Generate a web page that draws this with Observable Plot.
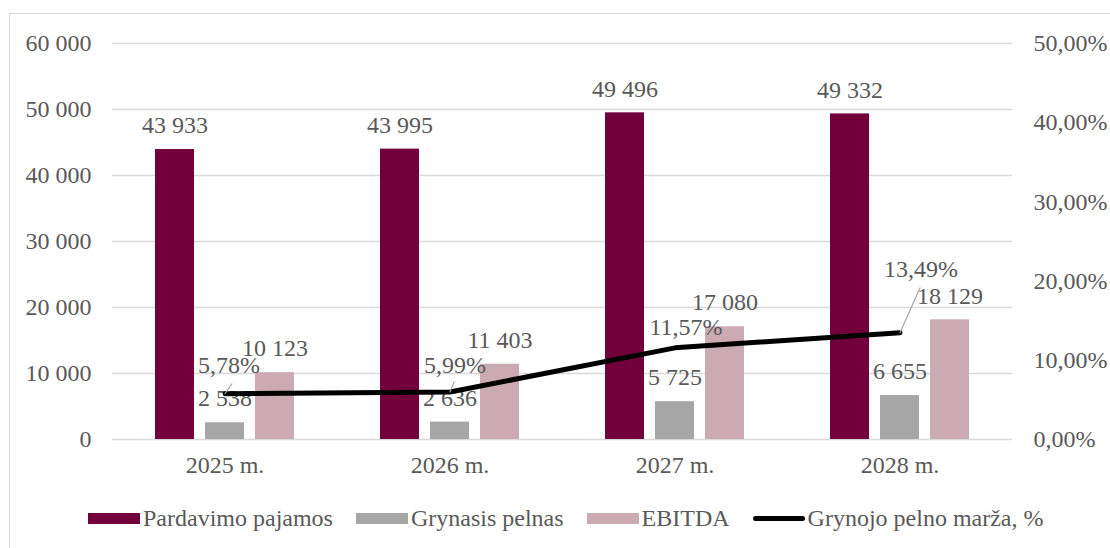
<!DOCTYPE html>
<html>
<head>
<meta charset="utf-8">
<script src="https://cdn.jsdelivr.net/npm/d3@7"></script>
<script src="https://cdn.jsdelivr.net/npm/@observablehq/plot@0.6"></script>
<style>
  html, body { margin: 0; padding: 0; background: #fff; }
  body { width: 1110px; height: 548px; position: relative; overflow: hidden; font-family: "Liberation Serif", "Times New Roman", serif; }
  #frame { position: absolute; left: 9px; top: 13px; width: 1200px; height: 600px; border: 1.5px solid #d9d9d9; box-sizing: border-box; }
  #chart { position: absolute; left: 0; top: 0; }
  #legend { position: absolute; left: 88px; top: 505px; display: flex; align-items: center; font-size: 24px; color: #595959; white-space: nowrap; }
  .item { display: flex; align-items: center; margin-right: 23px; }
  .sw { width: 52px; height: 11px; margin-right: 3px; }
  .ln { width: 52px; height: 5px; border-radius: 3px; background: #000; margin-right: 3px; }
</style>
</head>
<body>
<div id="frame"></div>
<div id="chart"></div>
<div id="legend"></div>
<script>
const years = ["2025 m.", "2026 m.", "2027 m.", "2028 m."];
const pardavimo = [43933, 43995, 49496, 49332];
const grynasis = [2538, 2636, 5725, 6655];
const ebitda = [10123, 11403, 17080, 18129];
const marza = [5.78, 5.99, 11.57, 13.49];
const leftTicks = [0, 10000, 20000, 30000, 40000, 50000, 60000];
const rightTicks = [0, 10, 20, 30, 40, 50];
const seriesNames = ["Pardavimo pajamos", "Grynasis pelnas", "EBITDA", "Grynojo pelno marža, %"];
const colors = ["#72003a", "#a6a6a6", "#ccaab3", "#000000"];

// style config for label placement (pixels)
const barDx = [-50, 0, 50];
const pctLabelOffsets = [[4, -28], [5, -27], [11, -21], [21, -63]];
const leaders = [[0, 12, 35], [1, 11, 22], [3, 49, 24]]; // [index, length, angle]

const LEFTMAX = 60000, RIGHTMAX = 50;
const toLeft = p => p * LEFTMAX / RIGHTMAX;
const fmtNum = d => d3.format(",")(d).replace(/,/g, " ");
const fmtPct = d => d.toFixed(2).replace(".", ",") + "%";

const rows = years.map((y, i) => ({year: y, i, p: pardavimo[i], g: grynasis[i], e: ebitda[i], m: marza[i]}));
const keys = ["p", "g", "e"];
const txt = "#595959";

const marks = [
  Plot.gridY(leftTicks, {stroke: "#d9d9d9", strokeOpacity: 1, strokeWidth: 1.5}),
  Plot.axisY(leftTicks, {anchor: "left", tickSize: 0, tickPadding: 21, tickFormat: fmtNum, fill: txt}),
  Plot.axisY(rightTicks.map(toLeft), {anchor: "right", tickSize: 0, tickPadding: 21, tickFormat: d => fmtPct(d * RIGHTMAX / LEFTMAX), fill: txt}),
  Plot.axisX({tickSize: 0, tickPadding: 16, fill: txt, label: null})
];
keys.forEach((k, s) => {
  marks.push(Plot.barY(rows, {x: "year", y: k, fill: colors[s], insetLeft: 93, insetRight: 93, dx: barDx[s]}));
});
keys.forEach((k, s) => {
  marks.push(Plot.text(rows, {x: "year", y: k, text: d => fmtNum(d[k]), dx: barDx[s], dy: -24, fill: txt}));
});
marks.push(Plot.line(rows, {x: "year", y: d => toLeft(d.m), stroke: colors[3], strokeWidth: 5, strokeLinecap: "round"}));
leaders.forEach(([i, len, ang]) => {
  marks.push(Plot.vector([rows[i]], {
    x: "year", y: d => toLeft(d.m), length: len, rotate: ang, anchor: "start",
    shape: {draw(ctx, l) { ctx.moveTo(0, 0); ctx.lineTo(0, -l); }},
    stroke: "#a6a6a6", strokeWidth: 1.2
  }));
});
rows.forEach((r, i) => {
  marks.push(Plot.text([r], {x: "year", y: d => toLeft(d.m), text: d => fmtPct(d.m), dx: pctLabelOffsets[i][0], dy: pctLabelOffsets[i][1], fill: txt}));
});

const chart = Plot.plot({
  width: 1110, height: 490,
  marginLeft: 112, marginRight: 98, marginTop: 43, marginBottom: 51,
  x: {type: "band", domain: years, padding: 0, label: null},
  y: {domain: [0, LEFTMAX], label: null},
  style: {fontFamily: "'Liberation Serif', 'Times New Roman', serif", fontSize: "24px", color: txt, background: "transparent", overflow: "visible"},
  marks
});
document.getElementById("chart").appendChild(chart);

const legend = document.getElementById("legend");
seriesNames.forEach((name, s) => {
  const it = document.createElement("div");
  it.className = "item";
  const sw = document.createElement("div");
  if (s < 3) { sw.className = "sw"; sw.style.background = colors[s]; } else { sw.className = "ln"; }
  const lab = document.createElement("span");
  lab.textContent = name;
  it.appendChild(sw); it.appendChild(lab);
  legend.appendChild(it);
});
</script>
</body>
</html>
